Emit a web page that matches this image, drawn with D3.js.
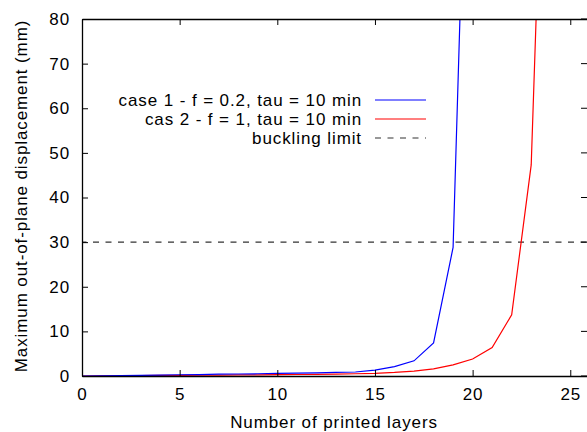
<!DOCTYPE html>
<html>
<head>
<meta charset="utf-8">
<script src="https://cdn.jsdelivr.net/npm/d3@7"></script>
<style>
  body { margin: 0; background: #fff; }
  svg { display: block; font-family: "Liberation Sans", Arial, sans-serif; }
  text { font-size: 17px; letter-spacing: 0.9px; }
</style>
</head>
<body>
<div id="graph"></div>
<script>
// data
var layers1 = [0,1,2,3,4,5,6,7,8,9,10,11,12,13,14,15,16,17,18,19,20];
var case1 = [0,0.05,0.1,0.15,0.2,0.28,0.33,0.4,0.45,0.5,0.58,0.64,0.7,0.8,0.9,1.3,2.1,3.4,7.4,28.8,175];
var layers2 = [0,1,2,3,4,5,6,7,8,9,10,11,12,13,14,15,16,17,18,19,20,21,22,23,24];
var case2 = [0,0.03,0.06,0.09,0.12,0.15,0.18,0.2,0.23,0.27,0.3,0.34,0.38,0.44,0.5,0.6,0.8,1.1,1.6,2.5,3.8,6.4,13.7,47.3,178];
var buckling = 30;
var xTicks = [0,5,10,15,20,25];
var yTicks = [0,10,20,30,40,50,60,70,80];
var legendLabels = ["case 1 - f = 0.2, tau = 10 min", "cas 2 - f = 1, tau = 10 min", "buckling limit"];

var width = 587, height = 432;
var margin = { top: 19, left: 82, bottom: 56, right: 0 };

var svg = d3.select("#graph").append("svg").attr("width", width).attr("height", height);

//x axis runs a little past the right edge of the window
var xScale = d3.scaleLinear().domain([0, 26]).range([margin.left, 589.8]);
var yScale = d3.scaleLinear().domain([0, 80]).range([height - margin.bottom, margin.top]);

svg.append("clipPath").attr("id", "clip")
  .append("rect")
  .attr("x", margin.left).attr("y", margin.top)
  .attr("width", width - margin.left)
  .attr("height", height - margin.top - margin.bottom);

var chartLayer = svg.append("g").attr("clip-path", "url(#clip)");

// buckling limit
chartLayer.append("line")
  .attr("x1", xScale(0)).attr("x2", xScale(26))
  .attr("y1", yScale(buckling)).attr("y2", yScale(buckling))
  .attr("stroke", "#333").attr("stroke-width", 1.3)
  .attr("stroke-dasharray", "6,6.5")
  .attr("stroke-dashoffset", 1.5);

var line = d3.line()
  .x(function(d) { return xScale(d[0]); })
  .y(function(d) { return yScale(d[1]); });

chartLayer.append("path")
  .datum(d3.zip(layers2, case2))
  .attr("fill", "none").attr("stroke", "#ff0000").attr("stroke-width", 1.2)
  .attr("d", line);

chartLayer.append("path")
  .datum(d3.zip(layers1, case1))
  .attr("fill", "none").attr("stroke", "#0000ff").attr("stroke-width", 1.2)
  .attr("d", line);

// axes (ticks inward, mirrored)
var axisLayer = svg.append("g");
axisLayer.append("g")
  .attr("transform", "translate(0," + yScale(0) + ")")
  .call(d3.axisBottom(xScale).tickValues(xTicks).tickSizeInner(-6).tickSizeOuter(0).tickPadding(12));
axisLayer.append("g")
  .attr("transform", "translate(0," + yScale(80) + ")")
  .call(d3.axisTop(xScale).tickValues(xTicks).tickSizeInner(-6).tickSizeOuter(0).tickFormat(""));
axisLayer.append("g")
  .attr("transform", "translate(" + xScale(0) + ",0)")
  .call(d3.axisLeft(yScale).tickValues(yTicks).tickSizeInner(-6).tickSizeOuter(0).tickPadding(12));

axisLayer.selectAll(".domain").attr("stroke", "#000").attr("stroke-width", 1.3);
axisLayer.selectAll(".tick line").attr("stroke", "#000");
axisLayer.selectAll(".tick text")
  .attr("fill", "#000")
  .style("font-family", "'Liberation Sans', Arial, sans-serif")
  .style("font-size", "17px");

// right-side ticks (the frame itself is off the window)
svg.append("g").selectAll("line")
  .data(yTicks)
  .enter().append("line")
  .attr("x1", 581).attr("x2", 587)
  .attr("y1", function(d) { return yScale(d); })
  .attr("y2", function(d) { return yScale(d); })
  .attr("stroke", "#000");

// axis titles
svg.append("text")
  .attr("x", 334).attr("y", 428)
  .attr("text-anchor", "middle")
  .text("Number of printed layers");

svg.append("text")
  .attr("transform", "translate(27,196) rotate(-90)")
  .attr("text-anchor", "middle")
  .text("Maximum out-of-plane displacement (mm)");

// legend
var legendColors = ["#0000ff", "#ff0000", "#333"];
var legend = svg.append("g");
legendLabels.forEach(function(label, i) {
  var y = 100 + i * 19;
  legend.append("text")
    .attr("x", 362).attr("y", y + 6)
    .attr("text-anchor", "end")
    .text(label);
  legend.append("line")
    .attr("x1", 375).attr("x2", 426)
    .attr("y1", y).attr("y2", y)
    .attr("stroke", legendColors[i]).attr("stroke-width", 1.2)
    .attr("stroke-dasharray", i === 2 ? "6,6.5" : null);
});
</script>
</body>
</html>
